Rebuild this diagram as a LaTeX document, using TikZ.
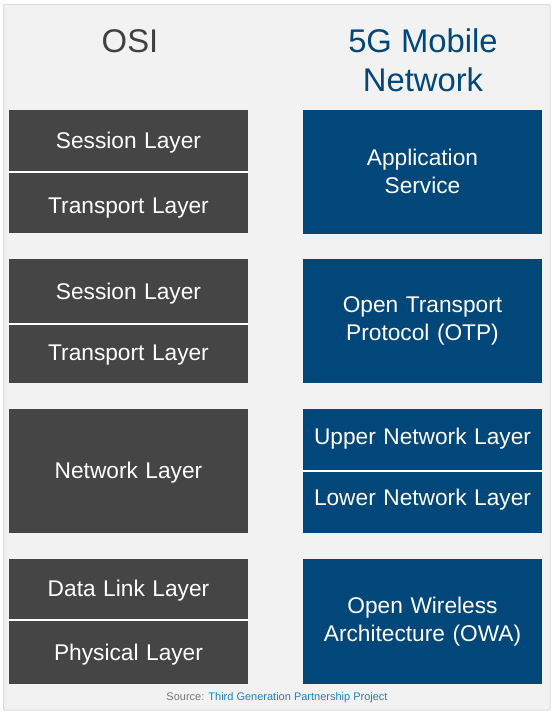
\documentclass[tikz,border=0pt]{standalone}
\usepackage{fontspec}
\setmainfont{Liberation Sans}
\definecolor{osigray}{HTML}{454545}
\definecolor{fgblue}{HTML}{02477A}
\definecolor{panel}{HTML}{F2F2F2}
\definecolor{panelborder}{HTML}{DCDCDC}
\definecolor{titlegray}{HTML}{404040}
\definecolor{srcgray}{HTML}{777777}
\definecolor{srcblue}{HTML}{1E82BE}
\begin{document}
\begin{tikzpicture}[x=1pt,y=-1pt,
  layerbox/.style={inner sep=0pt, text=white, font=\fontsize{22.7}{27.5}\selectfont, align=center, text width=237pt},
  osibox/.style={layerbox, fill=osigray},
  gbox/.style={layerbox, fill=fgblue},
  sep/.style={white, line width=2pt},
  title/.style={font=\fontsize{32.8}{39}\selectfont, align=center}]
\useasboundingbox (0,0) rectangle (554,713);
\fill[white] (0,0) rectangle (554,713);
\draw[panelborder, fill=panel, line width=1pt, rounded corners=1pt] (3.5,4.5) rectangle (550,710);

\node[title, text=titlegray] (osititle) at (130,41) {OSI};
\node[title, text=fgblue] (gtitle) at (423,60.5) {5G Mobile\\Network};

% OSI column
\path[fill=osigray] (9,110) rectangle (248,233);
\node[osibox] (s1) at (128.5,142.5) {Session Layer};
\node[osibox] (t1) at (128.5,208.5) {Transport Layer};
\draw[sep] (9,172) -- (248,172);

\path[fill=osigray] (9,259) rectangle (248,383);
\node[osibox] (s2) at (128.5,293.5) {Session Layer};
\node[osibox] (t2) at (128.5,355.5) {Transport Layer};
\draw[sep] (9,323.5) -- (248,323.5);

\path[fill=osigray] (9,409) rectangle (248,533);
\node[osibox] (net) at (128.5,472.5) {Network Layer};

\path[fill=osigray] (9,559) rectangle (248,684);
\node[osibox] (dl) at (128.5,590.5) {Data Link Layer};
\node[osibox] (ph) at (128.5,654.5) {Physical Layer};
\draw[sep] (9,620) -- (248,620);

% 5G column
\node[gbox, text width=239pt, minimum height=124pt] (app) at (422.5,171.5) {Application\\Service};
\node[gbox, text width=239pt, minimum height=124pt] (otp) at (422.5,321) {Open Transport\\Protocol (OTP)};
\path[fill=fgblue] (303,409) rectangle (542,533);
\node[gbox] (upper) at (422.5,438.5) {Upper Network Layer};
\node[gbox] (lower) at (422.5,499.5) {Lower Network Layer};
\draw[sep] (303,470.5) -- (542,470.5);
\node[gbox, text width=239pt, minimum height=125pt] (owa) at (422.5,621.5) {Open Wireless\\Architecture (OWA)};

\node[font=\fontsize{11}{13}\selectfont, text=srcgray] (src) at (277,697.5) {Source: \textcolor{srcblue}{Third Generation Partnership Project}};
\end{tikzpicture}
\end{document}
